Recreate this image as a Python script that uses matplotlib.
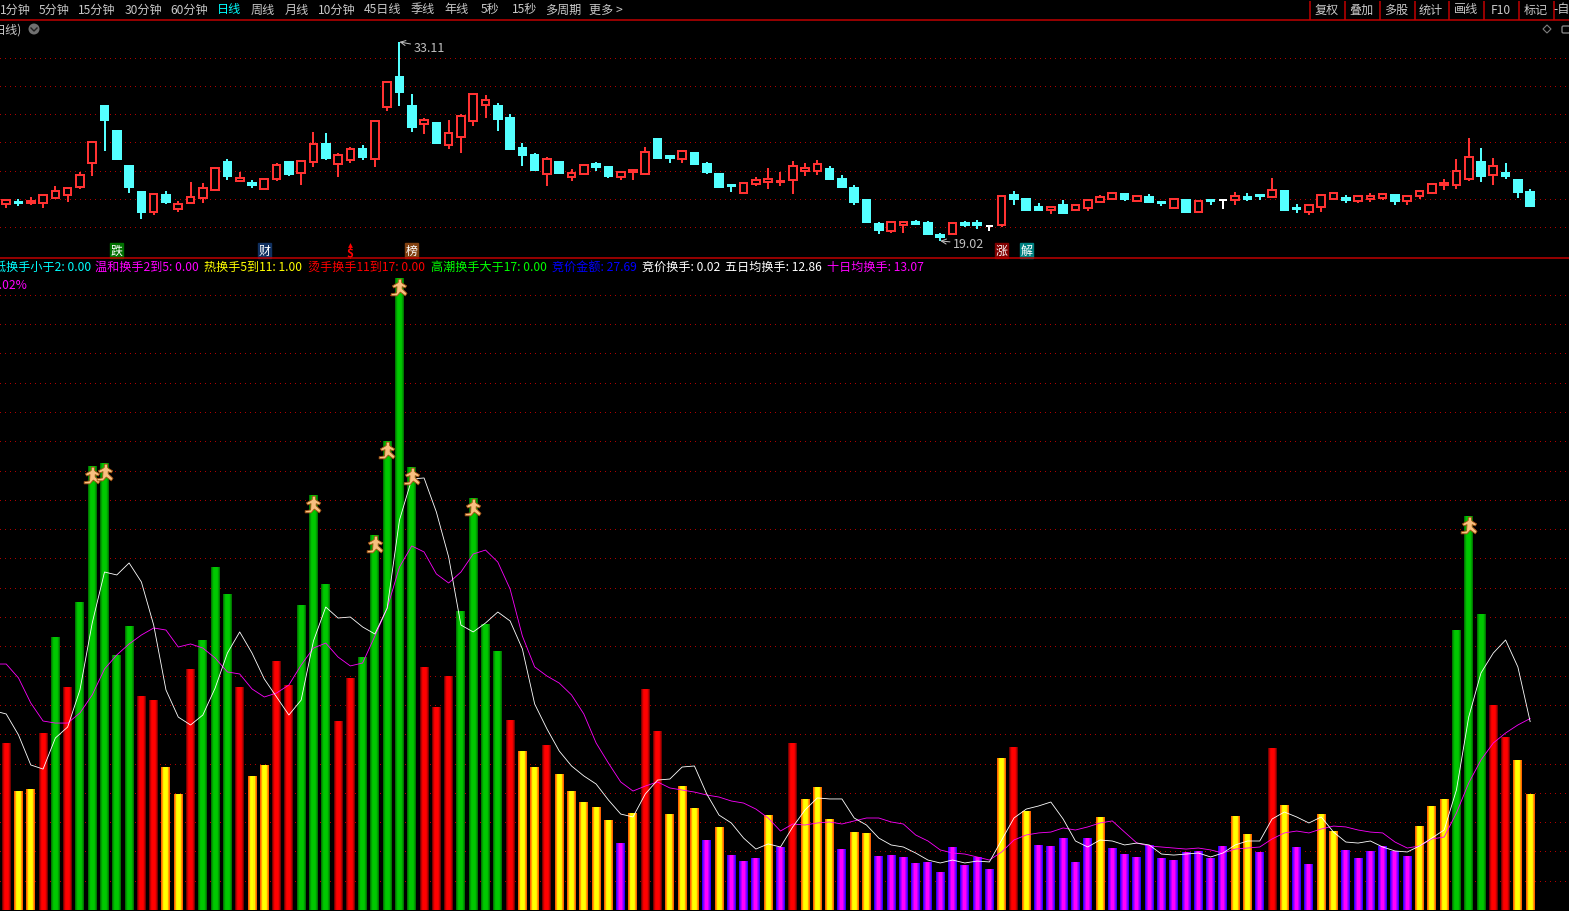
import numpy as np
import matplotlib
matplotlib.use("Agg")
import matplotlib.pyplot as plt
from matplotlib.path import Path
from matplotlib.patches import Circle, FancyBboxPatch, Polygon
from matplotlib.transforms import ScaledTranslation

plt.rcParams['font.family'] = ['Noto Sans CJK SC', 'DejaVu Sans']

# daily candles
opens = [21.64, 21.78, 21.71, 21.71, 22.06, 22.27, 22.84, 24.54, 28.58, 26.81,
         24.33, 22.49, 21.07, 22.27, 21.28, 21.71, 22.06, 22.63, 24.61, 23.27,
         23.12, 22.70, 23.41, 24.61, 23.83, 24.61, 25.89, 24.47, 24.75, 25.53,
         24.82, 28.50, 30.63, 28.58, 27.30, 27.37, 25.81, 26.38, 27.51, 28.65,
         28.58, 27.73, 25.60, 25.11, 23.76, 24.61, 23.55, 23.76, 24.47, 24.26,
         23.55, 23.90, 23.76, 26.24, 25.03, 24.82, 25.25, 24.47, 23.76, 22.98,
         22.42, 23.05, 23.19, 23.19, 23.34, 23.97, 23.97, 24.12, 23.41, 22.77,
         21.92, 20.22, 19.72, 20.15, 20.36, 20.29, 19.44, 19.51, 20.29, 20.29,
         20.08, 20.15, 22.27, 21.99, 21.42, 21.21, 21.57, 21.21, 21.35, 21.78,
         21.99, 22.34, 21.85, 22.13, 21.78, 21.35, 21.92, 21.07, 21.92, 21.92,
         21.92, 22.13, 22.27, 22.13, 22.56, 21.35, 21.07, 21.42, 21.99, 22.06,
         21.85, 21.99, 22.06, 22.27, 21.85, 22.20, 22.42, 22.98, 22.98, 23.41,
         24.61, 23.69, 23.83, 23.34, 22.49]
highs = [21.92, 21.99, 22.13, 22.27, 22.91, 22.77, 23.90, 26.03, 28.58, 26.81,
         24.33, 22.49, 22.34, 22.56, 21.85, 23.19, 23.12, 24.26, 24.82, 23.90,
         23.34, 23.41, 24.54, 24.61, 24.68, 26.73, 26.66, 25.25, 25.67, 25.81,
         27.51, 30.27, 33.11, 29.42, 27.73, 27.44, 27.58, 28.01, 29.42, 29.35,
         28.79, 28.01, 25.96, 25.25, 24.96, 24.68, 24.12, 24.40, 24.61, 24.26,
         23.90, 24.12, 25.67, 26.24, 25.03, 25.46, 25.25, 24.61, 23.83, 23.05,
         23.12, 23.55, 24.19, 23.90, 24.68, 24.54, 24.75, 24.33, 23.69, 22.98,
         21.92, 20.36, 20.36, 20.36, 20.50, 20.43, 19.58, 20.29, 20.43, 20.50,
         20.15, 22.20, 22.56, 21.99, 21.71, 21.42, 21.92, 21.57, 21.92, 22.27,
         22.42, 22.34, 22.20, 22.34, 21.85, 21.99, 21.99, 21.85, 21.92, 21.92,
         22.49, 22.42, 22.34, 23.48, 22.56, 21.64, 21.57, 22.34, 22.42, 22.27,
         22.20, 22.42, 22.34, 22.34, 22.27, 22.63, 23.05, 23.41, 24.82, 26.31,
         25.60, 24.89, 24.54, 23.41, 22.70]
lows = [21.35, 21.49, 21.57, 21.35, 21.99, 21.78, 22.70, 23.62, 25.39, 24.82,
        22.42, 20.57, 20.86, 21.64, 21.07, 21.64, 21.71, 22.63, 23.34, 23.19,
        22.77, 22.70, 23.27, 23.62, 22.98, 24.26, 24.75, 23.55, 24.54, 24.75,
        24.26, 28.22, 28.58, 26.73, 26.59, 25.89, 25.53, 25.25, 27.16, 27.73,
        26.81, 25.53, 24.33, 24.04, 22.91, 23.76, 23.27, 23.76, 23.97, 23.48,
        23.34, 23.34, 23.76, 24.89, 24.54, 24.54, 24.47, 23.76, 22.77, 22.49,
        22.34, 22.91, 22.70, 22.91, 22.34, 23.62, 23.69, 23.34, 22.77, 21.57,
        20.36, 19.51, 19.58, 19.58, 20.22, 19.51, 19.02, 19.44, 20.01, 19.87,
        19.72, 20.01, 21.57, 21.14, 21.21, 20.93, 21.00, 21.21, 21.14, 21.71,
        21.99, 21.85, 21.85, 21.78, 21.49, 21.35, 21.07, 21.07, 21.57, 21.28,
        21.57, 21.85, 21.92, 22.06, 21.14, 21.00, 20.86, 21.07, 21.92, 21.71,
        21.71, 21.78, 21.92, 21.57, 21.57, 21.99, 22.42, 22.63, 22.70, 23.27,
        23.19, 22.98, 23.41, 22.06, 21.49]
closes = [21.92, 21.71, 21.85, 22.27, 22.56, 22.77, 23.69, 26.03, 27.58, 24.82,
          22.84, 21.07, 22.34, 21.78, 21.64, 22.13, 22.77, 24.19, 23.62, 23.48,
          22.98, 23.41, 24.40, 23.76, 24.68, 25.89, 24.89, 25.11, 25.53, 24.96,
          27.51, 30.27, 29.57, 27.09, 27.58, 25.96, 26.66, 27.87, 29.42, 29.00,
          27.65, 25.53, 25.11, 24.04, 24.82, 23.83, 23.83, 24.40, 24.26, 23.62,
          23.90, 24.04, 25.32, 24.89, 24.89, 25.39, 24.47, 23.90, 22.84, 22.91,
          23.12, 23.34, 23.41, 23.27, 24.33, 24.19, 24.47, 23.41, 22.84, 21.78,
          20.36, 19.80, 20.36, 20.36, 20.22, 19.51, 19.30, 20.29, 20.15, 20.15,
          20.08, 22.20, 21.99, 21.21, 21.21, 21.42, 21.00, 21.57, 21.92, 22.13,
          22.42, 21.99, 22.20, 21.78, 21.71, 21.99, 21.07, 21.85, 21.85, 21.92,
          22.20, 21.99, 22.20, 22.63, 21.21, 21.28, 21.57, 22.27, 22.42, 21.92,
          22.20, 22.20, 22.34, 21.85, 22.20, 22.56, 23.05, 23.12, 23.97, 24.96,
          23.62, 24.33, 23.62, 22.49, 21.49]

# turnover bars
turnover = [11.40, 8.12, 8.26, 12.08, 18.63, 15.22, 21.02, 30.31, 30.51, 17.41,
            19.39, 14.61, 14.33, 9.76, 7.92, 16.45, 18.43, 23.41, 21.57, 15.22,
            9.15, 9.90, 16.97, 15.36, 20.82, 28.33, 22.25, 12.90, 15.84, 17.27,
            25.60, 32.01, 43.14, 30.24, 16.59, 13.86, 15.97, 20.41, 28.12, 19.52,
            17.68, 12.97, 10.85, 9.76, 11.26, 9.28, 8.12, 7.37, 7.03, 6.14,
            4.57, 6.62, 15.09, 12.22, 6.55, 8.46, 6.96, 4.78, 5.67, 3.75,
            3.34, 3.55, 6.48, 4.30, 11.40, 7.58, 8.40, 6.21, 4.16, 5.32,
            5.26, 3.69, 3.75, 3.62, 3.21, 3.28, 2.59, 4.30, 3.07, 3.62,
            2.80, 10.38, 11.13, 6.76, 4.44, 4.37, 4.91, 3.28, 4.91, 6.35,
            4.23, 3.82, 3.62, 4.44, 3.55, 3.41, 3.96, 4.03, 3.55, 4.37,
            6.42, 5.19, 3.96, 11.05, 7.17, 4.30, 3.14, 6.55, 5.39, 4.10,
            3.55, 4.03, 4.37, 4.03, 3.69, 5.73, 7.10, 7.58, 19.11, 26.89,
            20.20, 13.99, 11.81, 10.24, 7.92]
# the averages start one day before the first visible bar
avg5 = [13.60, 13.38, 11.95, 9.90, 9.62, 11.74, 12.49, 15.02, 19.59, 23.07, 22.87,
        23.69, 22.39, 19.45, 15.02, 13.17, 12.63, 13.31, 15.15, 17.54, 18.98,
        17.54, 15.77, 14.54, 13.31, 14.33, 18.36, 20.68, 19.93, 20.00, 19.32,
        18.84, 20.61, 26.62, 29.42, 29.49, 27.17, 24.10, 19.45, 18.98, 19.59,
        20.34, 19.73, 17.82, 14.06, 12.36, 10.85, 9.83, 9.15, 8.60, 7.51,
        6.55, 6.35, 7.92, 8.87, 8.94, 9.76, 9.83, 7.92, 6.48, 5.94,
        4.91, 4.16, 4.51, 4.30, 5.67, 6.83, 7.65, 7.58, 7.58, 6.28,
        5.80, 4.91, 4.44, 4.30, 3.89, 3.41, 3.21, 3.41, 3.21, 3.34,
        3.28, 4.78, 6.28, 6.89, 7.10, 7.37, 6.21, 4.71, 4.30, 4.78,
        4.71, 4.44, 4.57, 4.44, 3.82, 3.75, 3.82, 3.89, 3.62, 3.89,
        4.44, 4.71, 4.71, 6.21, 6.69, 6.35, 5.94, 6.35, 5.32, 4.64,
        4.57, 4.71, 4.30, 4.03, 3.96, 4.37, 4.91, 5.46, 8.19, 13.17,
        16.18, 17.54, 18.43, 16.59, 12.86]
avg10 = [16.79, 16.79, 15.84, 14.13, 12.90, 12.76, 12.76, 13.45, 14.68, 16.45, 17.41,
         18.16, 18.77, 19.25, 19.11, 17.95, 18.16, 17.88, 17.20, 16.25, 16.11,
         15.09, 14.54, 14.81, 15.36, 16.72, 17.88, 18.22, 17.27, 16.66, 16.86,
         18.70, 20.61, 23.41, 24.85, 24.44, 22.94, 22.32, 23.07, 24.30, 24.57,
         23.75, 21.91, 18.70, 16.59, 15.97, 15.49, 14.68, 13.38, 11.40, 10.03,
         8.74, 8.12, 8.46, 8.74, 8.33, 8.19, 8.05, 7.85, 7.71, 7.44,
         7.30, 6.89, 6.28, 5.39, 5.87, 5.80, 5.94, 6.01, 5.87, 6.08,
         6.28, 6.28, 6.01, 5.87, 5.12, 4.71, 4.10, 3.89, 3.82, 3.62,
         3.41, 3.96, 4.78, 5.12, 5.26, 5.32, 5.60, 5.46, 5.67, 5.94,
         6.08, 5.32, 4.57, 4.37, 4.30, 4.23, 4.16, 4.23, 4.10, 3.89,
         4.16, 4.23, 4.30, 4.85, 5.26, 5.39, 5.26, 5.53, 5.73, 5.67,
         5.46, 5.32, 5.26, 4.64, 4.23, 4.37, 4.85, 4.98, 6.62, 8.67,
         10.24, 11.40, 12.08, 12.63, 13.07]

price_ticks = [20, 22, 24, 26, 28, 30, 32]
turnover_ticks = list(range(2, 44, 2))

periods = ['1分钟', '5分钟', '15分钟', '30分钟', '60分钟', '日线', '周线', '月线', '10分钟',
           '45日线', '季线', '年线', '5秒', '15秒', '多周期', '更多 >']
period_x = [15, 54, 97, 143, 189, 229, 263, 297, 337, 383, 423, 457, 490, 525, 563, 606]
tools = ['复权', '叠加', '多股', '统计', '画线', 'F10', '标记', '-自']
tool_x = [1327, 1361, 1396, 1431, 1466, 1501, 1536, 1562]
tool_sep = [1310, 1344.6, 1379.6, 1414.6, 1449, 1484, 1519, 1554]

legend_items = [('低换手小于2: 0.00', '#00ffff', -6), ('温和换手2到5: 0.00', '#ff00ff', 95),
                ('热换手5到11: 1.00', '#ffff00', 204), ('烫手换手11到17: 0.00', '#ff0000', 308),
                ('高潮换手大于17: 0.00', '#00ff00', 431), ('竞价金额: 27.69', '#0000ff', 552),
                ('竞价换手: 0.02', '#ffffff', 642), ('五日均换手: 12.86', '#ffffff', 725),
                ('十日均换手: 13.07', '#ff00ff', 827)]

# label, candle index, box colour
signals = [('跌', 9, '#007000'), ('财', 21, '#103060'), ('榜', 33, '#804010'),
           ('涨', 81, '#800000'), ('解', 83, '#008080')]

RED = '#ff3232'
CYAN = '#54ffff'
GRID = '#b00000'
W, H = 1569, 912
PX = 12.29  # candle spacing in pixels
X0 = 6.2

x = np.arange(len(closes))
x_avg = np.arange(-1, len(closes))
xlim = (-X0 / PX, (W - X0) / PX)

fig = plt.figure(figsize=(W / 100, H / 100), dpi=100, facecolor='black')


def add_pane(top, bottom):
    ax = fig.add_axes([0, 1 - bottom / H, 1, (bottom - top) / H], facecolor='black')
    ax.set_xlim(xlim)
    ax.axis('off')
    return ax


# price pane
ax1 = add_pane(22, 259)
ax1.set_ylim(17.81, 34.59)
ax1.hlines(price_ticks, xlim[0], xlim[1], color=GRID, lw=0.72, linestyles=(0, (1, 5)),
           antialiased=False, zorder=0)

for i in x:
    if closes[i] > opens[i]:
        col = RED
    elif closes[i] < opens[i]:
        col = CYAN
    else:
        col = 'white'
    ax1.vlines(i, lows[i], highs[i], color=col, lw=1.44, zorder=2)
    face = 'black' if col == RED else col
    ax1.bar(i, closes[i] - opens[i], bottom=opens[i], width=0.62, facecolor=face,
            edgecolor=col, linewidth=1.44, zorder=3)

ax1.annotate('33.11', xy=(32, 33.11), xytext=(10, -4), textcoords='offset points',
             color='#c0c0c0', fontsize=9, va='center',
             arrowprops=dict(arrowstyle='->', color='#c0c0c0', lw=0.72, shrinkA=0, shrinkB=0))
ax1.annotate('19.02', xy=(76, 19.02), xytext=(9, -2), textcoords='offset points',
             color='#c0c0c0', fontsize=9, va='center',
             arrowprops=dict(arrowstyle='->', color='#c0c0c0', lw=0.72, shrinkA=0, shrinkB=0))

xt = ax1.get_xaxis_transform()
for label, i, box in signals:
    ax1.text(i, 0.032, label, transform=xt, color='white', fontsize=8.6, ha='center', va='center',
             bbox=dict(boxstyle='square,pad=0.05', facecolor=box, edgecolor=box), zorder=5)
ax1.text(28, 0.022, '$', transform=xt, color='#ff0000', fontsize=8.6, fontweight='bold',
         ha='center', va='center', zorder=5)
ax1.plot([28], [0.055], transform=xt, marker='^', ms=3.5, color='#ff0000', mew=0, zorder=5)

# turnover pane
ax2 = add_pane(260, 911)
ax2.set_ylim(0, 651 / 14.65)
ax2.hlines(turnover_ticks, xlim[0], xlim[1], color=GRID, lw=0.72, linestyles=(0, (1, 5)),
           antialiased=False, zorder=0)

green = ['#007800', '#00a000', '#00c000', '#00c800']
red = ['#780000', '#c00000', '#f00000', '#ff0000']
yellow = ['#ff6400', '#ffa000', '#fff000', '#ffff00']
purple = ['#3000ff', '#8000ff', '#c000ff', '#ff00ff']
widths = np.array([9, 7, 5, 3]) / PX

turnover = np.array(turnover)
groups = [(turnover >= 17, green), ((turnover >= 11) & (turnover < 17), red),
          ((turnover >= 5) & (turnover < 11), yellow), (turnover < 5, purple)]
for mask, shades in groups:
    for w, c in zip(widths, shades):
        ax2.bar(x[mask], turnover[mask], width=w, color=c, linewidth=0, zorder=2)

ax2.plot(x_avg, avg10, color='#ff00ff', lw=0.6, zorder=4)
ax2.plot(x_avg, avg5, color='white', lw=0.6, zorder=5)

# little running man on the big turnover days
man = Path([(-0.15, 1), (0.25, 1), (0.25, 0.62), (0.35, 0.5), (0.85, 0.2), (0.7, -0.05),
            (0.32, 0.1), (0.32, -0.15), (0.9, -0.7), (0.7, -1), (0.1, -0.55), (-0.3, -1),
            (-1, -1), (-1, -0.75), (-0.35, -0.65), (-0.3, 0.1), (-0.7, -0.05), (-0.85, 0.2),
            (-0.3, 0.5), (-0.15, 0.62), (-0.15, 1)])
shift = ax2.transData + ScaledTranslation(0, -9 / 100, fig.dpi_scale_trans)
hot = turnover > 25
ax2.plot(x[hot], turnover[hot], ls='', marker=man, ms=12, mfc='#f8c080', mec='#a05010', mew=0.6,
         transform=shift, zorder=6, clip_on=False)

# screen furniture, in pixels
ui = fig.add_axes([0, 0, 1, 1], facecolor='none')
ui.set_xlim(0, W)
ui.set_ylim(H, 0)
ui.axis('off')
ui.hlines([21, 258.5], 0, W, color='#c00000', lw=1.1)
ui.vlines(tool_sep, 2, 21, color='#c00000', lw=1.1)

for name, px in zip(periods, period_x):
    ui.text(px, 10, name, color='#00ffff' if name == '日线' else '#c8c8c8', fontsize=8.7,
            ha='center', va='center')
for name, px in zip(tools, tool_x):
    ui.text(px, 10, name, color='#c8c8c8', fontsize=8.7, ha='center', va='center')

ui.text(22, 30, '日线)', color='#c8c8c8', fontsize=8.7, ha='right', va='center')
ui.add_patch(Circle((34, 30), 5.5, facecolor='#707070', edgecolor='none'))
ui.plot([31, 34, 37], [29, 32, 29], color='#202020', lw=1)
ui.add_patch(Polygon([(1547, 26), (1551, 30), (1547, 34), (1543, 30)], closed=True,
                     facecolor='none', edgecolor='#808080', lw=0.8))
ui.add_patch(FancyBboxPatch((1562, 27), 8, 7, boxstyle='round,pad=0,rounding_size=1.5',
                            facecolor='none', edgecolor='#808080', lw=1))

for text, col, px in legend_items:
    ui.text(px, 267.5, text, color=col, fontsize=8.7, ha='left', va='center')
ui.text(27, 286, '0.02%', color='#ff00ff', fontsize=8.7, ha='right', va='center')

fig.savefig('out.png', dpi=100, facecolor='black')
